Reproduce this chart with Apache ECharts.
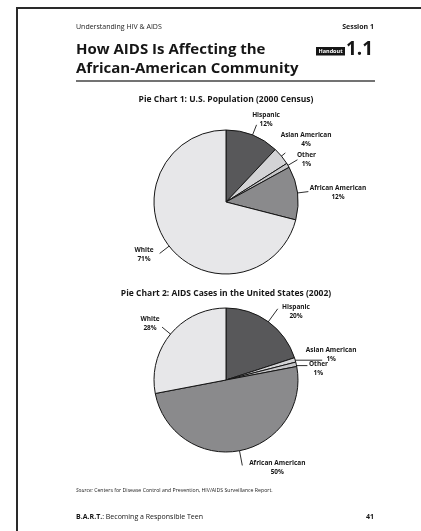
<!DOCTYPE html>
<html>
<head>
<meta charset="utf-8">
<script src="https://cdn.jsdelivr.net/npm/echarts@6/dist/echarts.min.js"></script>
<style>
  html, body { margin: 0; padding: 0; background: #ffffff; }
  #chart { width: 421px; height: 531px; }
</style>
</head>
<body>
<div id="chart"></div>
<script>
// Population groups, in slice order (clockwise from 12 o'clock)
const categories = ['Hispanic', 'Asian American', 'Other', 'African American', 'White'];
// Share of U.S. population, 2000 Census (%)
const population2000 = [12, 4, 1, 12, 71];
// Share of AIDS cases in the United States, 2002 (%)
const aidsCases2002 = [20, 1, 1, 50, 28];
const pieTitles = [
  'Pie Chart 1: U.S. Population (2000 Census)',
  'Pie Chart 2: AIDS Cases in the United States (2002)'
];

const FONT = '"Open Sans", "Noto Sans", "DejaVu Sans", sans-serif';
const INK = '#161616';

const sliceColors = {
  'Hispanic': '#58585a',
  'Asian American': '#d3d3d5',
  'Other': '#c6c6c8',
  'African American': '#8a8a8c',
  'White': '#e7e7e9'
};

// Leader line lengths and where each label block sits relative to the line end
const labelGuides = [
  {
    'Hispanic':         { len: 20, len2: 0,  off: [9.5, -5] },
    'Asian American':   { len: 14, len2: 0,  off: [20.7, -13.4] },
    'Other':            { len: 20, len2: 0,  off: [9, 0.3] },
    'African American': { len: 20, len2: 0,  off: [29.7, 1] },
    'White':            { len: 21, len2: 0,  off: [-15.6, 1.5] }
  },
  {
    'Hispanic':         { len: 25, len2: 0,  off: [18.3, 3.2] },
    'Asian American':   { len: 8,  len2: 28, off: [9, -6] },
    'Other':            { len: 3,  len2: 17, off: [11, 3.5] },
    'African American': { len: 24, len2: 0,  off: [35, 2.6] },
    'White':            { len: 20, len2: 0,  off: [-12, -3.6] }
  }
];

const pieLayouts = [
  { center: [226, 202], radius: 72, titleY: 100 },
  { center: [226, 380], radius: 72, titleY: 294 }
];
const pieValues = [population2000, aidsCases2002];

function placeLabel(pieIdx) {
  return function (params) {
    const pts = params.labelLinePoints;
    if (!pts) { return {}; }
    const end = pts[pts.length - 1];
    const g = labelGuides[pieIdx][categories[params.dataIndex]];
    return {
      x: end[0] + g.off[0],
      y: end[1] + g.off[1],
      align: 'center',
      verticalAlign: 'middle',
      labelLinePoints: pts.map(p => [p[0], p[1]])
    };
  };
}

const series = [];
pieLayouts.forEach((lay, k) => {
  const values = pieValues[k];
  // filled slices with black outlines
  series.push({
    type: 'pie',
    center: lay.center,
    radius: lay.radius,
    startAngle: 90,
    clockwise: true,
    silent: true,
    animation: false,
    label: { show: false },
    labelLine: { show: false },
    emphasis: { disabled: true },
    itemStyle: { borderColor: INK, borderWidth: 1 },
    data: categories.map((name, i) => ({
      name: name,
      value: values[i],
      itemStyle: { color: sliceColors[name] }
    }))
  });
  // invisible inner ring carrying the labels, so leader lines start inside each slice
  series.push({
    type: 'pie',
    center: lay.center,
    radius: lay.radius - 9,
    startAngle: 90,
    clockwise: true,
    silent: true,
    animation: false,
    avoidLabelOverlap: false,
    minShowLabelAngle: 0,
    emphasis: { disabled: true },
    itemStyle: { color: 'rgba(0,0,0,0)', borderWidth: 0 },
    label: {
      show: true,
      position: 'outside',
      formatter: p => p.name + '\n' + p.value + '%',
      fontFamily: FONT,
      fontWeight: 'bold',
      fontSize: 6.5,
      lineHeight: 9,
      color: INK
    },
    labelLine: {
      show: true,
      length: 20,
      length2: 0,
      smooth: false,
      lineStyle: { color: INK, width: 0.9 }
    },
    labelLayout: placeLabel(k),
    data: categories.map((name, i) => {
      const g = labelGuides[k][name];
      return {
        name: name,
        value: values[i],
        labelLine: { length: g.len, length2: g.len2 }
      };
    })
  });
});

const graphic = [
  // page edge
  {
    type: 'polyline',
    shape: { points: [[17, 531], [17, 8], [421, 8]] },
    style: { stroke: '#2a2a2a', lineWidth: 2, fill: null }
  },
  {
    type: 'text', x: 76, y: 27,
    style: { text: 'Understanding HIV & AIDS', font: '7px ' + FONT, fill: '#222', verticalAlign: 'middle' }
  },
  {
    type: 'text', x: 374, y: 27,
    style: { text: 'Session 1', font: 'bold 7px ' + FONT, fill: INK, align: 'right', verticalAlign: 'middle' }
  },
  {
    type: 'text', x: 76, y: 40,
    style: {
      text: 'How AIDS Is Affecting the\nAfrican-American Community',
      font: 'bold 15px ' + FONT, lineHeight: 19, fill: INK, verticalAlign: 'top'
    }
  },
  {
    type: 'rect', shape: { x: 316, y: 47, width: 29, height: 8.5 },
    style: { fill: INK }
  },
  {
    type: 'text', x: 330.5, y: 51.3,
    style: { text: 'Handout', font: 'bold 5.5px ' + FONT, fill: '#ffffff', align: 'center', verticalAlign: 'middle' }
  },
  {
    type: 'text', x: 346, y: 50,
    style: { text: '1.1', font: 'bold 19px ' + FONT, fill: INK, align: 'left', verticalAlign: 'middle' }
  },
  {
    type: 'line', shape: { x1: 76, y1: 81, x2: 375, y2: 81 },
    style: { stroke: '#444', lineWidth: 1.5 }
  },
  {
    type: 'text', x: 76, y: 491,
    style: {
      text: '{i|Source:} Centers for Disease Control and Prevention, HIV/AIDS Surveillance Report.',
      font: '5.2px ' + FONT, fill: '#222', verticalAlign: 'middle',
      rich: { i: { fontStyle: 'italic', fontSize: 5.2, fontFamily: FONT, fill: '#222' } }
    }
  },
  {
    type: 'text', x: 76, y: 517,
    style: {
      text: '{b|B.A.R.T.}: Becoming a Responsible Teen',
      font: '7px ' + FONT, fill: INK, verticalAlign: 'middle',
      rich: { b: { fontWeight: 'bold', fontSize: 7, fontFamily: FONT, fill: INK } }
    }
  },
  {
    type: 'text', x: 374, y: 517,
    style: { text: '41', font: 'bold 7px ' + FONT, fill: INK, align: 'right', verticalAlign: 'middle' }
  }
];

pieLayouts.forEach((lay, k) => {
  graphic.push({
    type: 'text', x: lay.center[0], y: lay.titleY,
    style: { text: pieTitles[k], font: 'bold 8.5px ' + FONT, fill: INK, align: 'center', verticalAlign: 'middle' }
  });
});

const chart = echarts.init(document.getElementById('chart'), null, { renderer: 'canvas' });
chart.setOption({
  backgroundColor: '#ffffff',
  animation: false,
  series: series,
  graphic: graphic
});
</script>
</body>
</html>
